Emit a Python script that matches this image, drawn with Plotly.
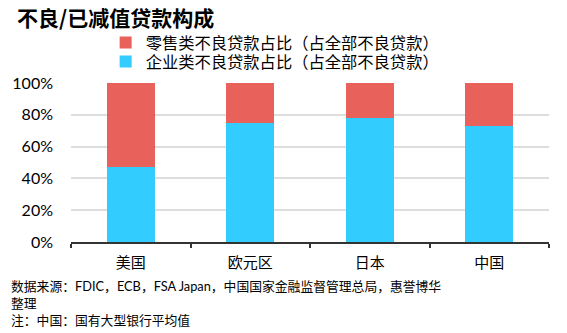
import plotly.graph_objects as go

categories = ["美国", "欧元区", "日本", "中国"]
corporate = [47, 75, 78, 73]
retail = [53, 25, 22, 27]
tick_vals = [0, 20, 40, 60, 80, 100]
tick_text = ["0%", "20%", "40%", "60%", "80%", "100%"]
footer_lines = ["数据来源：FDIC，ECB，FSA Japan，中国国家金融监督管理总局，惠誉博华",
                "整理",
                "注：中国：国有大型银行平均值"]

CJK = "Noto Sans CJK SC"
MIX = "Lato, Noto Sans CJK SC"
PW, PH = 483, 159

def py(ypix):
    return 1 + (83 - ypix) / PH

def px(xpix):
    return (xpix - 66) / PW

fig = go.Figure()
fig.add_trace(go.Bar(x=categories, y=corporate, name="企业类不良贷款占比（占全部不良贷款）",
                     marker=dict(color="#33CCFF", line=dict(width=0)), legend="legend2"))
fig.add_trace(go.Bar(x=categories, y=retail, name="零售类不良贷款占比（占全部不良贷款）",
                     marker=dict(color="#E8615B", line=dict(width=0)), legend="legend"))

leg_common = dict(xanchor="left", yanchor="middle",
                  font=dict(family=MIX, size=16.3, color="#000"),
                  itemwidth=30, bgcolor="rgba(0,0,0,0)")

fig.update_layout(
    width=567, height=333,
    barmode="stack", bargap=0.6,
    paper_bgcolor="white", plot_bgcolor="white",
    margin=dict(l=66, r=18, t=83, b=91),
    font=dict(family=CJK, size=15, color="#000"),
    showlegend=True,
    legend=dict(x=px(101), y=py(43), **leg_common),
    legend2=dict(x=px(101), y=py(62), **leg_common),
    xaxis=dict(showline=True, linecolor="#333", linewidth=2, ticks="outside",
               tickson="boundaries", ticklen=4, tickwidth=2, tickcolor="#333",
               ticklabelstandoff=6,
               tickfont=dict(family=CJK, size=15, color="#000"), fixedrange=True),
    yaxis=dict(range=[0, 100], tickvals=tick_vals, ticktext=tick_text,
               showgrid=True, gridcolor="#DDDDDD", gridwidth=2,
               zeroline=False, showline=False, ticklabelstandoff=17,
               tickfont=dict(family="Lato", size=16, color="#000"), fixedrange=True),
)

fig.add_annotation(text="<b>不良/已减值贷款构成</b>", xref="paper", yref="paper",
                   x=px(9), y=py(17), xanchor="left", yanchor="middle",
                   showarrow=False, font=dict(family=CJK, size=21, color="#000"))

for i, line in enumerate(footer_lines):
    fig.add_annotation(text=line, xref="paper", yref="paper", x=px(3), y=py(286 + 17 * i),
                       xanchor="left", yanchor="middle", align="left", showarrow=False,
                       font=dict(family=MIX, size=12.8, color="#000"))

fig.write_html("out.html")
